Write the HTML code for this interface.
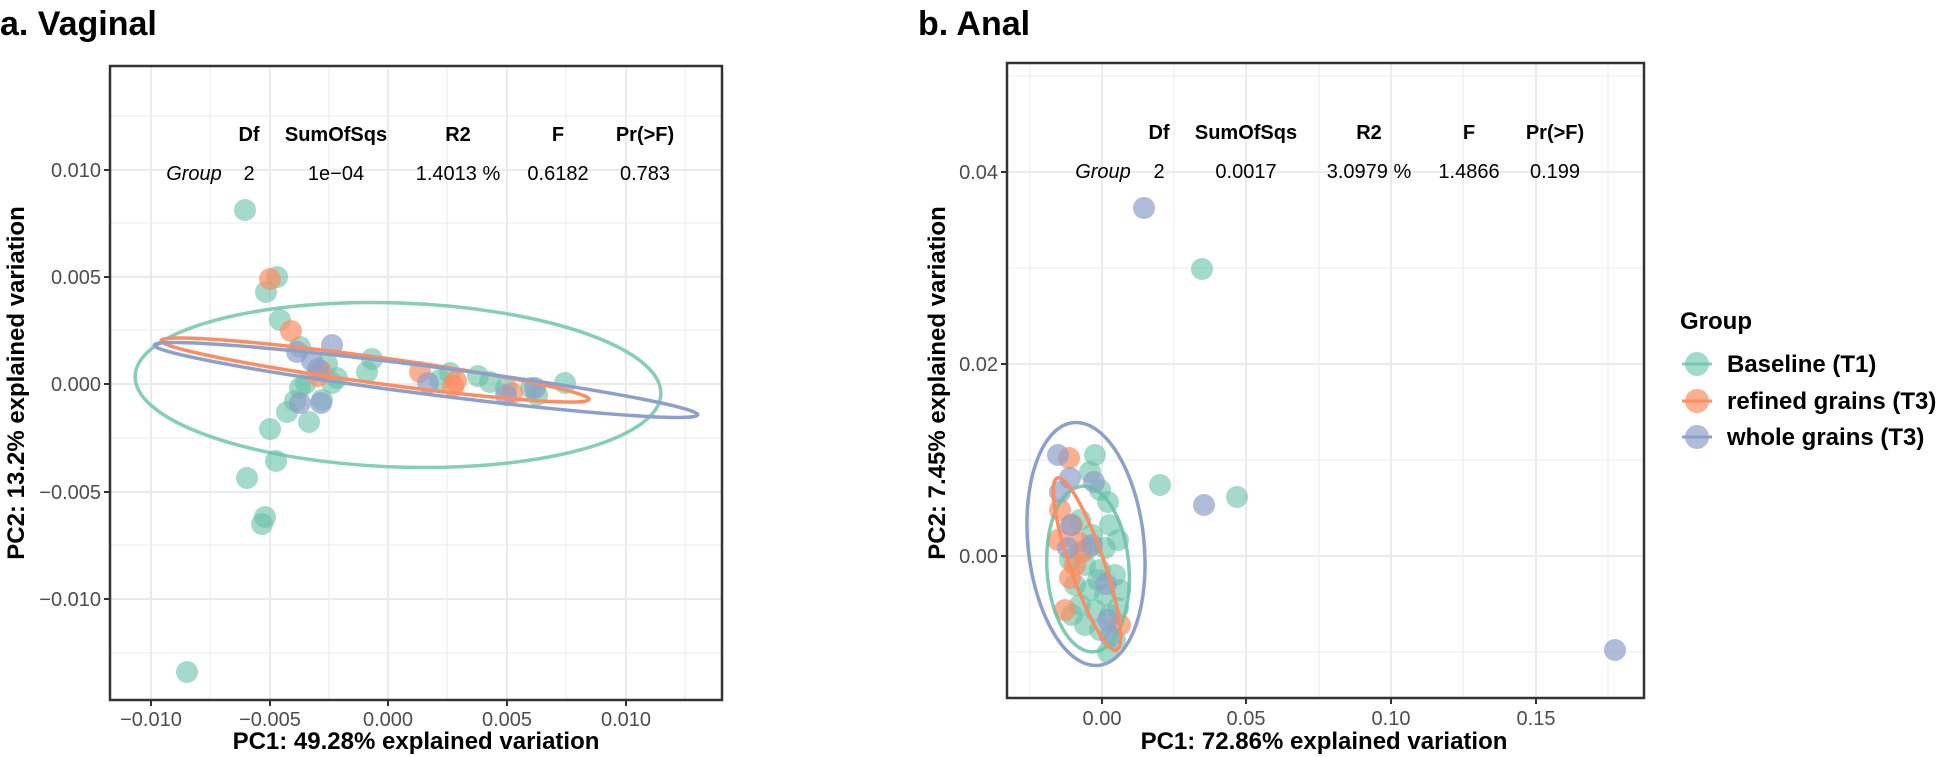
<!DOCTYPE html>
<html><head><meta charset="utf-8"><style>
body{margin:0;background:#fff}
svg{display:block;font-family:"Liberation Sans",Arial,sans-serif}
.tk{font-size:20px;fill:#4d4d4d}
.ttl{font-size:24px;font-weight:bold;fill:#000}
.hd{font-size:20px;font-weight:bold;text-anchor:middle}
.rw{font-size:20px;text-anchor:middle}
.gM{stroke:#ebebeb;stroke-width:1}
.gm{stroke:#ebebeb;stroke-width:2}
.g circle{fill:#66c2a5;fill-opacity:.6}
.o circle{fill:#fc8d62;fill-opacity:.7}
.p circle{fill:#8da0cb;fill-opacity:.7}
</style></head><body>
<svg width="1948" height="757" viewBox="0 0 1948 757">
<text x="0" y="35" font-size="34" font-weight="bold">a. Vaginal</text>
<text x="918" y="35" font-size="34" font-weight="bold">b. Anal</text>

<!-- Panel A -->
<g>
<line class="gM" x1="110" x2="722" y1="116" y2="116"/><line class="gM" x1="110" x2="722" y1="223" y2="223"/><line class="gM" x1="110" x2="722" y1="330" y2="330"/><line class="gM" x1="110" x2="722" y1="438" y2="438"/><line class="gM" x1="110" x2="722" y1="545" y2="545"/><line class="gM" x1="110" x2="722" y1="653" y2="653"/>
<line class="gM" y1="66" y2="700" x1="210" x2="210"/><line class="gM" y1="66" y2="700" x1="329" x2="329"/><line class="gM" y1="66" y2="700" x1="447" x2="447"/><line class="gM" y1="66" y2="700" x1="566" x2="566"/><line class="gM" y1="66" y2="700" x1="685" x2="685"/>
<line class="gm" x1="110" x2="722" y1="170" y2="170"/><line class="gm" x1="110" x2="722" y1="277" y2="277"/><line class="gm" x1="110" x2="722" y1="384" y2="384"/><line class="gm" x1="110" x2="722" y1="492" y2="492"/><line class="gm" x1="110" x2="722" y1="599" y2="599"/>
<line class="gm" y1="66" y2="700" x1="151" x2="151"/><line class="gm" y1="66" y2="700" x1="270" x2="270"/><line class="gm" y1="66" y2="700" x1="388" x2="388"/><line class="gm" y1="66" y2="700" x1="507" x2="507"/><line class="gm" y1="66" y2="700" x1="626" x2="626"/>
<text class="hd" x="249" y="141">Df</text><text class="hd" x="336" y="141">SumOfSqs</text><text class="hd" x="458" y="141">R2</text><text class="hd" x="558" y="141">F</text><text class="hd" x="645" y="141">Pr(&gt;F)</text>
<text class="rw" x="194" y="180" font-style="italic">Group</text><text class="rw" x="249" y="180">2</text><text class="rw" x="336" y="180">1e−04</text><text class="rw" x="458" y="180">1.4013 %</text><text class="rw" x="558" y="180">0.6182</text><text class="rw" x="645" y="180">0.783</text>
<g class="g">
<circle cx="245" cy="210" r="11"/><circle cx="266" cy="292" r="11"/><circle cx="277" cy="277" r="11"/><circle cx="280" cy="320" r="11"/><circle cx="300" cy="347" r="11"/><circle cx="327" cy="364" r="11"/><circle cx="372" cy="359" r="11"/><circle cx="367" cy="372" r="11"/><circle cx="337" cy="378" r="11"/><circle cx="300" cy="388" r="11"/><circle cx="295" cy="401" r="11"/><circle cx="287" cy="412" r="11"/><circle cx="309" cy="422" r="11"/><circle cx="270" cy="429" r="11"/><circle cx="276" cy="461" r="11"/><circle cx="247" cy="478" r="11"/><circle cx="265" cy="517" r="11"/><circle cx="262" cy="524" r="11"/><circle cx="187" cy="672" r="11"/><circle cx="450" cy="373" r="11"/><circle cx="478" cy="376" r="11"/><circle cx="506" cy="388" r="11"/><circle cx="531" cy="388" r="11"/><circle cx="565" cy="383" r="11"/><circle cx="537" cy="395" r="11"/><circle cx="322" cy="400" r="11"/><circle cx="332" cy="383" r="11"/><circle cx="306" cy="383" r="11"/><circle cx="440" cy="380" r="11"/><circle cx="490" cy="382" r="11"/>
</g>
<g class="o">
<circle cx="270" cy="279" r="11"/><circle cx="291" cy="331" r="11"/><circle cx="321" cy="371" r="11"/><circle cx="420" cy="372" r="11"/><circle cx="456" cy="381" r="11"/><circle cx="453" cy="386" r="11"/><circle cx="512" cy="393" r="11"/><circle cx="318" cy="376" r="11"/>
</g>
<g class="p">
<circle cx="332" cy="345" r="11"/><circle cx="297" cy="352" r="11"/><circle cx="312" cy="361" r="11"/><circle cx="318" cy="369" r="11"/><circle cx="321" cy="403" r="11"/><circle cx="300" cy="403" r="11"/><circle cx="428" cy="383" r="11"/><circle cx="506" cy="395" r="11"/><circle cx="535" cy="388" r="11"/>
</g>
<g fill="none" stroke-width="3.5">
<ellipse cx="398" cy="385" rx="263" ry="82" stroke="#66c2a5" stroke-opacity=".8" transform="rotate(2 398 385)"/>
<ellipse cx="375" cy="370" rx="216" ry="13" stroke="#fc8d62" transform="rotate(7.8 375 370)"/>
<ellipse cx="426" cy="380" rx="274" ry="14" stroke="#8da0cb" transform="rotate(7.3 426 380)"/>
</g>
<rect x="110" y="66" width="612" height="634" fill="none" stroke="#333" stroke-width="2.5"/>
<g stroke="#333" stroke-width="2"><line x1="104" x2="110" y1="170" y2="170"/><line x1="104" x2="110" y1="277" y2="277"/><line x1="104" x2="110" y1="384" y2="384"/><line x1="104" x2="110" y1="492" y2="492"/><line x1="104" x2="110" y1="599" y2="599"/>
<line y1="700" y2="706" x1="151" x2="151"/><line y1="700" y2="706" x1="270" x2="270"/><line y1="700" y2="706" x1="388" x2="388"/><line y1="700" y2="706" x1="507" x2="507"/><line y1="700" y2="706" x1="626" x2="626"/></g>
<g class="tk" text-anchor="end"><text x="101" y="177">0.010</text><text x="101" y="284">0.005</text><text x="101" y="391">0.000</text><text x="101" y="499">−0.005</text><text x="101" y="606">−0.010</text></g>
<g class="tk" text-anchor="middle"><text x="151" y="726">−0.010</text><text x="270" y="726">−0.005</text><text x="388" y="726">0.000</text><text x="507" y="726">0.005</text><text x="626" y="726">0.010</text></g>
<text class="ttl" x="416" y="749" text-anchor="middle">PC1: 49.28% explained variation</text>
<text class="ttl" transform="translate(24 383) rotate(-90)" text-anchor="middle">PC2: 13.2% explained variation</text>
</g>

<!-- Panel B -->
<g>
<line class="gM" x1="1007" x2="1644" y1="76" y2="76"/><line class="gM" x1="1007" x2="1644" y1="268" y2="268"/><line class="gM" x1="1007" x2="1644" y1="460" y2="460"/><line class="gM" x1="1007" x2="1644" y1="652" y2="652"/>
<line class="gM" y1="63" y2="698" x1="1030" x2="1030"/><line class="gM" y1="63" y2="698" x1="1174" x2="1174"/><line class="gM" y1="63" y2="698" x1="1319" x2="1319"/><line class="gM" y1="63" y2="698" x1="1463" x2="1463"/><line class="gM" y1="63" y2="698" x1="1608" x2="1608"/>
<line class="gm" x1="1007" x2="1644" y1="172" y2="172"/><line class="gm" x1="1007" x2="1644" y1="364" y2="364"/><line class="gm" x1="1007" x2="1644" y1="556" y2="556"/>
<line class="gm" y1="63" y2="698" x1="1102" x2="1102"/><line class="gm" y1="63" y2="698" x1="1246" x2="1246"/><line class="gm" y1="63" y2="698" x1="1391" x2="1391"/><line class="gm" y1="63" y2="698" x1="1536" x2="1536"/>
<text class="hd" x="1159" y="139">Df</text><text class="hd" x="1246" y="139">SumOfSqs</text><text class="hd" x="1369" y="139">R2</text><text class="hd" x="1469" y="139">F</text><text class="hd" x="1555" y="139">Pr(&gt;F)</text>
<text class="rw" x="1103" y="178" font-style="italic">Group</text><text class="rw" x="1159" y="178">2</text><text class="rw" x="1246" y="178">0.0017</text><text class="rw" x="1369" y="178">3.0979 %</text><text class="rw" x="1469" y="178">1.4866</text><text class="rw" x="1555" y="178">0.199</text>
<g class="g">
<circle cx="1202" cy="269" r="11"/><circle cx="1160" cy="485" r="11"/><circle cx="1237" cy="497" r="11"/>
<circle cx="1095" cy="455" r="11"/><circle cx="1090" cy="472" r="11"/><circle cx="1100" cy="490" r="11"/><circle cx="1108" cy="502" r="11"/><circle cx="1118" cy="540" r="11"/><circle cx="1080" cy="520" r="11"/><circle cx="1092" cy="535" r="11"/><circle cx="1105" cy="548" r="11"/><circle cx="1070" cy="560" r="11"/><circle cx="1085" cy="565" r="11"/><circle cx="1100" cy="570" r="11"/><circle cx="1115" cy="575" r="11"/><circle cx="1075" cy="585" r="11"/><circle cx="1090" cy="590" r="11"/><circle cx="1105" cy="595" r="11"/><circle cx="1120" cy="590" r="11"/><circle cx="1080" cy="605" r="11"/><circle cx="1095" cy="610" r="11"/><circle cx="1110" cy="615" r="11"/><circle cx="1085" cy="625" r="11"/><circle cx="1100" cy="630" r="11"/><circle cx="1115" cy="640" r="11"/><circle cx="1108" cy="652" r="11"/><circle cx="1072" cy="615" r="11"/><circle cx="1118" cy="608" r="11"/><circle cx="1098" cy="580" r="11"/><circle cx="1088" cy="548" r="11"/><circle cx="1110" cy="525" r="11"/>
</g>
<g class="o">
<circle cx="1069" cy="458" r="11"/><circle cx="1060" cy="510" r="11"/><circle cx="1072" cy="525" r="11"/><circle cx="1078" cy="542" r="11"/><circle cx="1075" cy="565" r="11"/><circle cx="1070" cy="578" r="11"/><circle cx="1065" cy="610" r="11"/><circle cx="1082" cy="552" r="11"/><circle cx="1120" cy="625" r="11"/><circle cx="1058" cy="540" r="11"/>
</g>
<g class="p">
<circle cx="1144" cy="208" r="11"/><circle cx="1204" cy="505" r="11"/><circle cx="1615" cy="650" r="11"/>
<circle cx="1058" cy="455" r="11"/><circle cx="1070" cy="478" r="11"/><circle cx="1094" cy="482" r="11"/><circle cx="1060" cy="492" r="11"/><circle cx="1071" cy="525" r="11"/><circle cx="1092" cy="545" r="11"/><circle cx="1068" cy="548" r="11"/><circle cx="1106" cy="584" r="11"/><circle cx="1108" cy="620" r="11"/><circle cx="1110" cy="636" r="11"/>
</g>
<g fill="none" stroke-width="3.5">
<ellipse cx="1088" cy="569" rx="41" ry="83" stroke="#66c2a5" stroke-opacity=".85" transform="rotate(-4 1088 569)"/>
<ellipse cx="1087" cy="564" rx="17" ry="91" stroke="#fc8d62" transform="rotate(-19 1087 564)"/>
<ellipse cx="1086" cy="544" rx="58" ry="122" stroke="#8da0cb" transform="rotate(-6 1086 544)"/>
</g>
<rect x="1007" y="63" width="637" height="635" fill="none" stroke="#333" stroke-width="2.5"/>
<g stroke="#333" stroke-width="2"><line x1="1001" x2="1007" y1="172" y2="172"/><line x1="1001" x2="1007" y1="364" y2="364"/><line x1="1001" x2="1007" y1="556" y2="556"/>
<line y1="698" y2="704" x1="1102" x2="1102"/><line y1="698" y2="704" x1="1246" x2="1246"/><line y1="698" y2="704" x1="1391" x2="1391"/><line y1="698" y2="704" x1="1536" x2="1536"/></g>
<g class="tk" text-anchor="end"><text x="998" y="179">0.04</text><text x="998" y="371">0.02</text><text x="998" y="563">0.00</text></g>
<g class="tk" text-anchor="middle"><text x="1102" y="725">0.00</text><text x="1246" y="725">0.05</text><text x="1391" y="725">0.10</text><text x="1536" y="725">0.15</text></g>
<text class="ttl" x="1324" y="749" text-anchor="middle">PC1: 72.86% explained variation</text>
<text class="ttl" transform="translate(945 383) rotate(-90)" text-anchor="middle">PC2: 7.45% explained variation</text>
</g>

<!-- Legend -->
<text x="1680" y="329" font-size="24" font-weight="bold">Group</text>
<g font-size="24" font-weight="bold">
<circle cx="1697" cy="364" r="12" fill="#66c2a5" fill-opacity=".6"/><line x1="1682" x2="1712" y1="364" y2="364" stroke="#66c2a5" stroke-width="3" stroke-opacity=".8"/><text x="1727" y="372">Baseline (T1)</text>
<circle cx="1697" cy="401" r="12" fill="#fc8d62" fill-opacity=".7"/><line x1="1682" x2="1712" y1="401" y2="401" stroke="#fc8d62" stroke-width="3"/><text x="1727" y="409">refined grains (T3)</text>
<circle cx="1697" cy="437" r="12" fill="#8da0cb" fill-opacity=".7"/><line x1="1682" x2="1712" y1="437" y2="437" stroke="#8da0cb" stroke-width="3"/><text x="1727" y="445">whole grains (T3)</text>
</g>
</svg>
</body></html>
